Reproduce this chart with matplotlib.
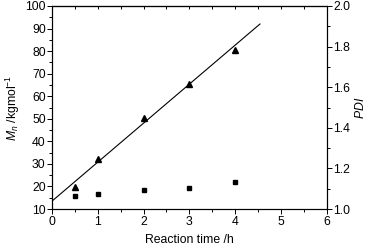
import matplotlib
matplotlib.use('Agg')
import matplotlib.pyplot as plt
from matplotlib.ticker import MultipleLocator

plt.rcParams['font.family'] = ['Liberation Sans', 'DejaVu Sans']
plt.rcParams['mathtext.fontset'] = 'custom'
plt.rcParams['mathtext.it'] = 'Liberation Sans:italic'
plt.rcParams['mathtext.rm'] = 'Liberation Sans'

# data
time_h = [0.5, 1, 2, 3, 4]
mn = [19.9, 32.2, 50.5, 65.3, 80.4]          # kg/mol, triangles
pdi = [1.062, 1.074, 1.092, 1.103, 1.133]     # squares, right axis
fit_x = [0, 4.54]                             # linear fit of Mn
fit_y = [13.5, 92.0]

fig = plt.figure(figsize=(3.71, 2.48), dpi=100)
ax = fig.add_axes([0.140, 0.157, 0.741, 0.819])
ax2 = ax.twinx()

ax.plot(fit_x, fit_y, color='black', lw=0.8)
ax.plot(time_h, mn, ls='none', marker='^', color='black', ms=4.5)
ax2.plot(time_h, pdi, ls='none', marker='s', color='black', ms=3.2)

ax.set_xlim(0, 6)
ax.set_ylim(10, 100)
ax2.set_ylim(1.0, 2.0)

ax.xaxis.set_major_locator(MultipleLocator(1))
ax.xaxis.set_minor_locator(MultipleLocator(0.5))
ax.yaxis.set_major_locator(MultipleLocator(10))
ax.yaxis.set_minor_locator(MultipleLocator(5))
ax2.yaxis.set_major_locator(MultipleLocator(0.2))
ax2.yaxis.set_minor_locator(MultipleLocator(0.1))

fs = 8.8
ax.tick_params(axis='x', which='both', direction='out', top=False, labelsize=fs, width=0.7, pad=1.5)
ax.tick_params(axis='x', which='major', length=3.5)
ax.tick_params(axis='x', which='minor', length=2)
ax.tick_params(axis='y', which='major', direction='out', length=3.5, width=0.7, labelsize=fs, pad=1)
ax.tick_params(axis='y', which='minor', direction='out', length=2, width=0.7)
ax2.tick_params(axis='y', which='major', direction='out', length=3.5, width=0.7, labelsize=fs, pad=1)
ax2.tick_params(axis='y', which='minor', direction='out', length=2, width=0.7)

# top ticks pointing inward, no labels
top = ax.secondary_xaxis('top')
top.xaxis.set_major_locator(MultipleLocator(1))
top.xaxis.set_minor_locator(MultipleLocator(0.5))
top.tick_params(which='both', direction='in', length=2.5, width=0.7, labeltop=False)

for a in (ax, ax2):
    for s in a.spines.values():
        s.set_linewidth(0.8)
top.spines['top'].set_linewidth(0.8)

ax.set_xlabel('Reaction time /h', fontsize=fs, labelpad=4)
ax.set_ylabel('$M_n$ /kgmol$^{-1}$', fontsize=fs, labelpad=2)
ax2.set_ylabel('$PDI$', fontsize=fs, labelpad=3)

fig.savefig('out.png', dpi=100)
